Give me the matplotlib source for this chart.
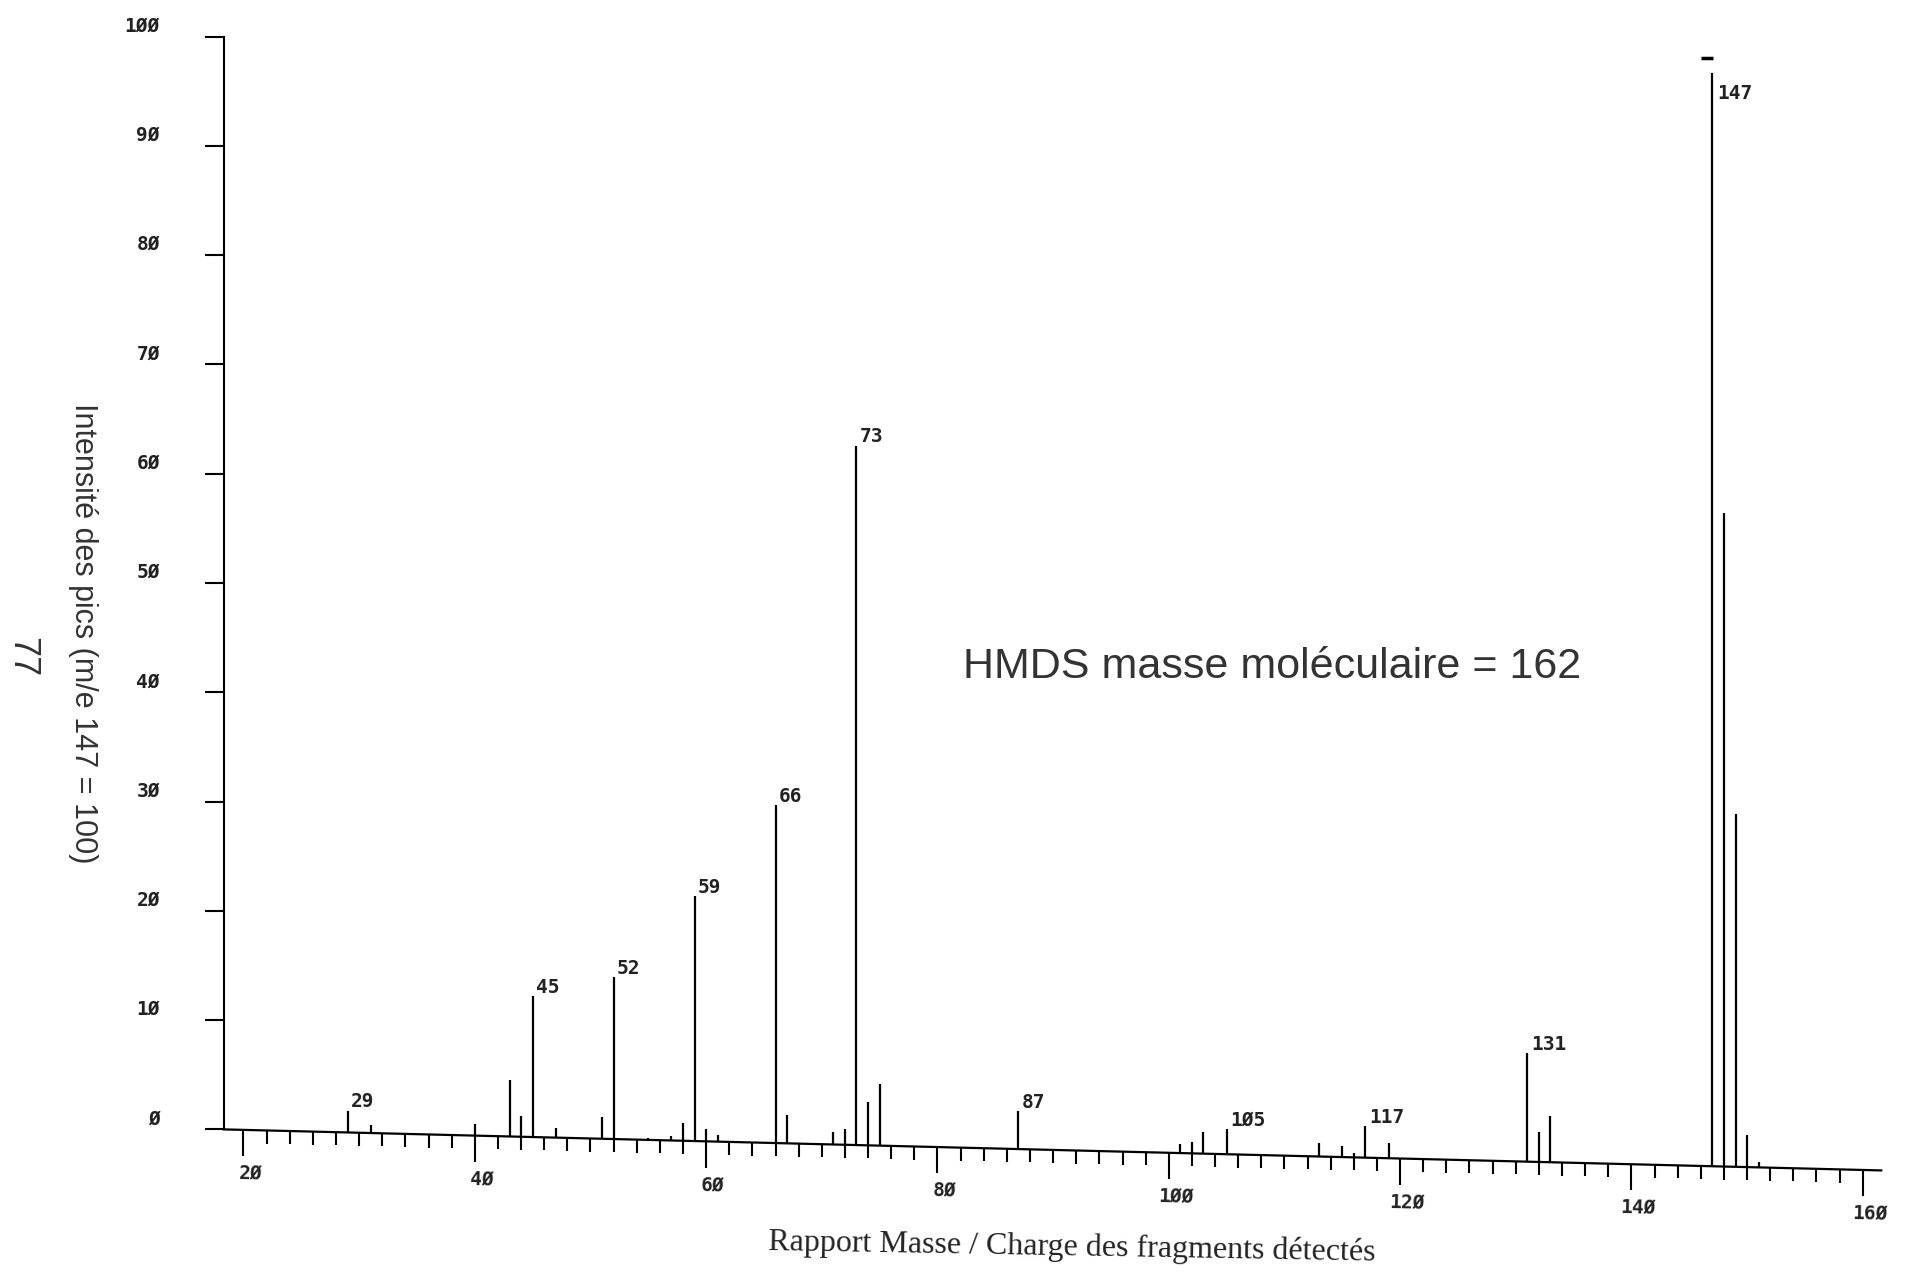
import matplotlib
matplotlib.use('Agg')
import matplotlib.pyplot as plt
from matplotlib.transforms import ScaledTranslation
import numpy as np

# mass spectrum of HMDS, intensities relative to m/e 147 = 100
mz = [29, 31, 40, 43, 44, 45, 47, 51, 52, 55, 57, 58, 59, 60, 61,
      66, 67, 71, 72, 73, 74, 75, 87, 101, 102, 103, 105,
      113, 115, 116, 117, 119, 131, 132, 133, 147, 148, 149, 150, 151]
intensity = [2.0, 0.7, 1.1, 5.2, 1.9, 12.9, 0.9, 2.0, 14.8, 0.2, 0.4, 1.6, 22.4, 1.1, 0.6,
             30.9, 2.6, 1.1, 1.4, 64.0, 4.0, 5.6, 3.5, 0.8, 1.0, 2.0, 2.3,
             1.2, 1.0, 0.4, 2.9, 1.4, 9.9, 2.7, 4.2, 100.0, 59.8, 32.3, 2.9, 0.5]
labelled = [29, 45, 52, 59, 66, 73, 87, 105, 117, 131, 147]

y_ticks = list(range(0, 101, 10))
x_major = list(range(20, 161, 20))
x_minor = [m for m in range(20, 161, 2) if m % 20]

AXIS_MZ = 18.3   # where the intensity axis stands on the m/z scale
TILT = 0.0262    # the scanned baseline sags a little towards the right
MONO = 'DejaVu Sans Mono'


def base(m):
    return -TILT * (np.asarray(m, dtype=float) - AXIS_MZ)


def zslash(v):
    # the plotter prints zeros slashed
    return str(v).replace('0', 'Ø')


fig = plt.figure(figsize=(19.09, 12.73), dpi=100)
ax = fig.add_axes([0.06696, 0.11281, 0.90881, 0.85851])
ax.set_xlim(10, 160)
ax.set_ylim(0, 100)

mz_arr = np.array(mz, dtype=float)
h_arr = np.array(intensity)
ax.vlines(mz_arr, base(mz_arr), base(mz_arr) + h_arr, color='black', lw=1.6, clip_on=False)

# tilted m/z axis
ends = np.array([AXIS_MZ, 161.6])
ax.plot(ends, base(ends), color='black', lw=1.6, clip_on=False)
ax.vlines(x_minor, base(x_minor) - 1.2, base(x_minor), color='black', lw=1.5, clip_on=False)
ax.vlines(x_major, base(x_major) - 2.4, base(x_major), color='black', lw=1.5, clip_on=False)
for m in x_major:
    ax.text(m + 0.6, base(m) - 4.0, zslash(m), ha='center', va='center', rotation=-1.4,
            family=MONO, fontsize=14, fontweight='bold', color='#222222', clip_on=False)

# peak labels
for m, h in zip(mz, intensity):
    if m not in labelled:
        continue
    top = base(m) + h
    if h > 95:
        ax.text(m + 0.4, top - 1.0, zslash(m), ha='left', va='top', family=MONO,
                fontsize=14, fontweight='bold', color='#222222')
        ax.plot(m - 0.5, top + 1.4, marker='_', ms=9, mew=2.5, color='black', clip_on=False)
    else:
        ax.text(m + 0.3, top + 0.8, zslash(m), ha='left', va='center', family=MONO,
                fontsize=14, fontweight='bold', color='#222222')

# intensity axis
for side in ['top', 'right', 'bottom']:
    ax.spines[side].set_visible(False)
ax.spines['left'].set_position(('data', AXIS_MZ))
ax.spines['left'].set_linewidth(1.5)
ax.set_xticks([])
ax.set_yticks(y_ticks)
ax.set_yticklabels([zslash(v) for v in y_ticks], family=MONO, fontweight='bold', color='#222222')
ax.tick_params(axis='y', direction='out', length=14, width=1.5, pad=32, labelsize=14)
shift = ScaledTranslation(0, 9 / 72, fig.dpi_scale_trans)
for lab in ax.get_yticklabels():
    lab.set_transform(lab.get_transform() + shift)

ax.set_ylabel('Intensité des pics (m/e 147 = 100)', rotation=-90, fontsize=22,
              family='Liberation Sans', color='#333333', rotation_mode='anchor',
              ha='center', va='center')
ax.yaxis.set_label_coords(-0.026, 0.454)
ax.set_xlabel('Rapport Masse / Charge des fragments détectés', fontsize=23,
              family='Liberation Serif', color='#222222', rotation=-1)
ax.xaxis.set_label_coords(0.544, -0.108)
ax.xaxis.label.set_va('center')

ax.text(108.9, 42.3, 'HMDS masse moléculaire = 162', ha='center', va='center',
        fontsize=31, family='Liberation Sans', color='#333333')
fig.text(0.0115, 0.4837, '77', rotation=-90, ha='center', va='center',
         fontsize=26, family='Liberation Sans', color='#333333')

fig.savefig('out.png', dpi=100, facecolor='white')
